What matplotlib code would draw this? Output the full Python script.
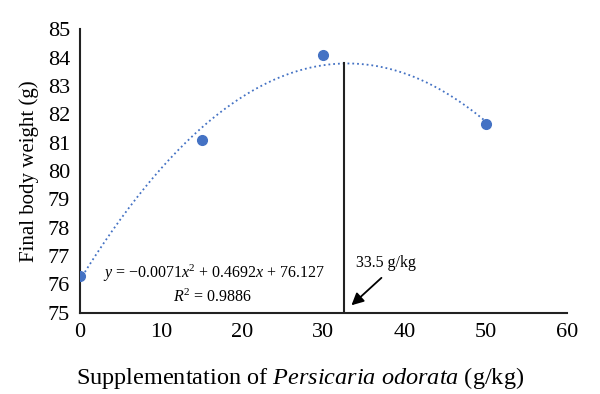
import matplotlib.pyplot as plt
import numpy as np

plt.rcParams['font.family'] = ['Liberation Serif', 'DejaVu Serif']
plt.rcParams['mathtext.fontset'] = 'custom'
plt.rcParams['mathtext.rm'] = 'Liberation Serif'
plt.rcParams['mathtext.it'] = 'Liberation Serif:italic'

level = [0, 15, 30, 50]
weight = [76.3, 81.1, 84.1, 81.65]
optimum = 32.5
opt_top = 83.8

# quadratic trendline from the points
coef = np.polyfit(level, weight, 2)
xs = np.linspace(0, 50, 200)
ys = np.polyval(coef, xs)

fig = plt.figure(figsize=(6, 3.94), dpi=100)
ax = fig.add_axes([0.133, 0.206, 0.812, 0.72])

ax.plot(xs, ys, color='#4472C4', linestyle=':', linewidth=1.3)
ax.plot(level, weight, 'o', color='#4472C4', markersize=7, zorder=3)
ax.plot([optimum, optimum], [75, opt_top], color='#222222', linewidth=1.5)

ax.annotate('', xy=(33.2, 75.2), xytext=(37.4, 76.3),
            arrowprops=dict(arrowstyle='-|>', color='black', lw=1.3, mutation_scale=18))
ax.text(34.0, 76.75, '33.5 g/kg', fontsize=11.5, va='center', ha='left')
ax.text(16.6, 76.4, r'$y$ = −0.0071$x$$^2$ + 0.4692$x$ + 76.127', fontsize=11.5,
        ha='center', va='center')
ax.text(16.3, 75.55, r'$R$$^2$ = 0.9886', fontsize=11.5, ha='center', va='center')

ax.set_xlim(0, 60)
ax.set_ylim(75, 85)
ax.set_xticks(range(0, 61, 10))
ax.set_yticks(range(75, 86))
ax.tick_params(length=0, labelsize=16, pad=7)
for s in ['top', 'right']:
    ax.spines[s].set_visible(False)
for s in ['left', 'bottom']:
    ax.spines[s].set_color('#222222')
    ax.spines[s].set_linewidth(1.5)

ax.set_xlabel('Supplementation of $Persicaria$ $odorata$ (g/kg)', fontsize=17.5)
ax.xaxis.set_label_coords(0.452, -0.185)
ax.set_ylabel('Final body weight (g)', fontsize=15, labelpad=6)

fig.savefig('out.png', dpi=100)
